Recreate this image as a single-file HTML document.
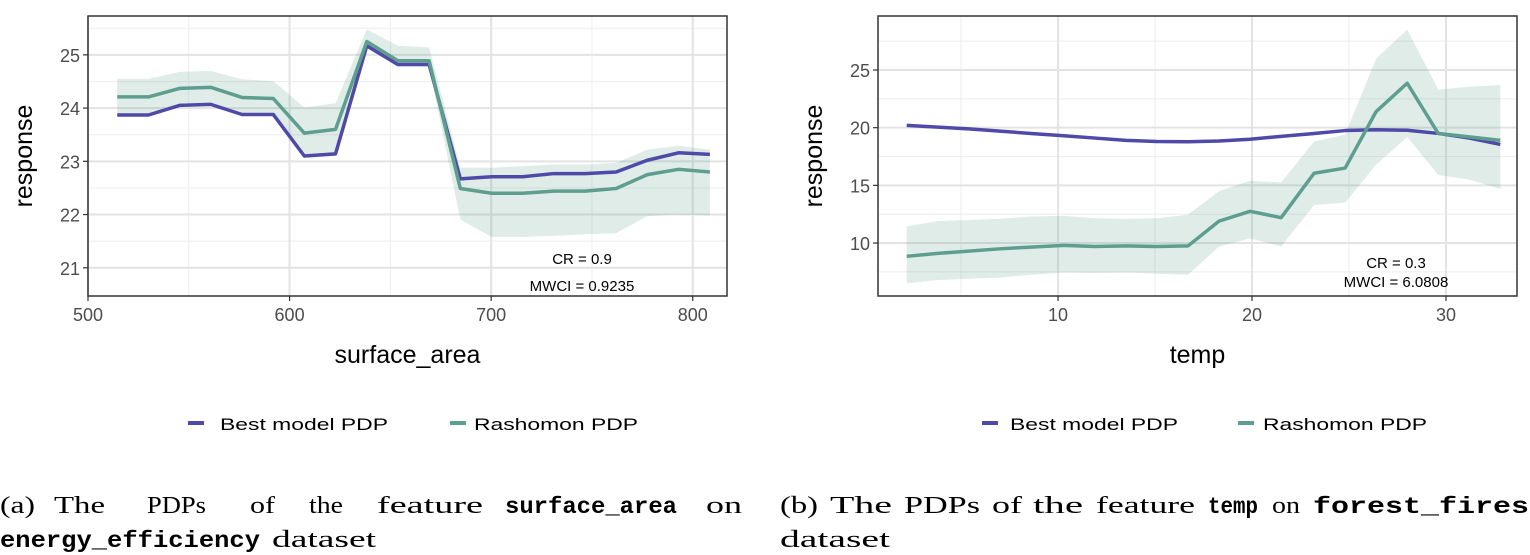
<!DOCTYPE html>
<html><head><meta charset="utf-8"><style>
html,body{margin:0;padding:0;background:#fff;width:1530px;height:555px;overflow:hidden}
svg{display:block}
.tk{font-family:"Liberation Sans",sans-serif;font-size:18px;fill:#4d4d4d}
.ax{font-family:"Liberation Sans",sans-serif;font-size:25px;fill:#000}
.an{font-family:"Liberation Sans",sans-serif;font-size:15px;fill:#000}
.lg{font-family:"Liberation Sans",sans-serif;font-size:17px;fill:#000}
.cap{font-family:"Liberation Serif",serif;font-size:24px;fill:#000}
.mono{font-family:"Liberation Mono",monospace;font-weight:bold;font-size:23px}
</style></head><body>
<svg id="svg" width="1530" height="555" xmlns="http://www.w3.org/2000/svg">
<g id="p1"></g>
<g id="p2"></g>
<g>
<rect x="188" y="421" width="16" height="4" fill="#4f4aa8"/><text class="lg" x="220" y="430" textLength="168" lengthAdjust="spacingAndGlyphs">Best model PDP</text>
<rect x="450" y="421" width="16" height="4" fill="#5e9e8e"/><text class="lg" x="474" y="430" textLength="164" lengthAdjust="spacingAndGlyphs">Rashomon PDP</text>
</g>
<g>
<rect x="982" y="421" width="16" height="4" fill="#4f4aa8"/><text class="lg" x="1010" y="430" textLength="168" lengthAdjust="spacingAndGlyphs">Best model PDP</text>
<rect x="1238" y="421" width="16" height="4" fill="#5e9e8e"/><text class="lg" x="1263" y="430" textLength="164" lengthAdjust="spacingAndGlyphs">Rashomon PDP</text>
</g>
<g>
<text class="cap" x="0" y="513" textLength="35" lengthAdjust="spacingAndGlyphs">(a)</text>
<text class="cap" x="54" y="513" textLength="51" lengthAdjust="spacingAndGlyphs">The</text>
<text class="cap" x="147" y="513" textLength="59" lengthAdjust="spacingAndGlyphs">PDPs</text>
<text class="cap" x="250" y="513" textLength="25" lengthAdjust="spacingAndGlyphs">of</text>
<text class="cap" x="309" y="513" textLength="34" lengthAdjust="spacingAndGlyphs">the</text>
<text class="cap" x="377" y="513" textLength="106" lengthAdjust="spacingAndGlyphs">feature</text>
<text class="cap mono" x="505" y="513" textLength="172" lengthAdjust="spacingAndGlyphs">surface_area</text>
<text class="cap" x="706" y="513" textLength="36" lengthAdjust="spacingAndGlyphs">on</text>
<text class="cap mono" x="0" y="547" textLength="260" lengthAdjust="spacingAndGlyphs">energy_efficiency</text>
<text class="cap" x="272" y="547" textLength="104" lengthAdjust="spacingAndGlyphs">dataset</text>
</g>
<g>
<text class="cap" x="780" y="513" textLength="38" lengthAdjust="spacingAndGlyphs">(b)</text>
<text class="cap" x="830" y="513" textLength="62" lengthAdjust="spacingAndGlyphs">The</text>
<text class="cap" x="904" y="513" textLength="76" lengthAdjust="spacingAndGlyphs">PDPs</text>
<text class="cap" x="992" y="513" textLength="30" lengthAdjust="spacingAndGlyphs">of</text>
<text class="cap" x="1033" y="513" textLength="50" lengthAdjust="spacingAndGlyphs">the</text>
<text class="cap" x="1096" y="513" textLength="99" lengthAdjust="spacingAndGlyphs">feature</text>
<text class="cap mono" x="1208" y="513" textLength="50" lengthAdjust="spacingAndGlyphs">temp</text>
<text class="cap" x="1272" y="513" textLength="28" lengthAdjust="spacingAndGlyphs">on</text>
<text class="cap mono" x="1313" y="513" textLength="216" lengthAdjust="spacingAndGlyphs">forest_fires</text>
<text class="cap" x="780" y="547" textLength="110" lengthAdjust="spacingAndGlyphs">dataset</text>
</g>
</svg>
<script>
// Panel A data
const saX=[514.5,530,545.4,560.9,576.4,591.9,607.3,622.8,638.3,653.7,669.2,684.7,700.2,715.6,731.1,746.6,762,777.5,793,808.5];
const saBest=[23.87,23.87,24.05,24.07,23.88,23.88,23.10,23.14,25.17,24.82,24.82,22.67,22.71,22.71,22.77,22.77,22.80,23.02,23.16,23.13];
const saRash=[24.21,24.21,24.37,24.39,24.20,24.18,23.53,23.60,25.25,24.89,24.89,22.49,22.40,22.40,22.44,22.44,22.49,22.75,22.85,22.80];
const saUp=[24.55,24.55,24.68,24.70,24.54,24.51,24.01,24.09,25.48,25.17,25.14,22.88,22.88,22.91,22.94,22.94,22.97,23.22,23.29,23.22];
const saLo=[23.85,23.85,24.02,24.04,23.86,23.86,23.06,23.10,25.12,24.78,24.78,21.91,21.58,21.58,21.60,21.63,21.65,21.97,22.0,21.98];
const saXTicks=[500,600,700,800];
const saYTicks=[21,22,23,24,25];
// Panel B data
const tX=[2.2,3.8,5.4,7.0,8.6,10.3,11.9,13.5,15.1,16.7,18.3,19.9,21.5,23.2,24.8,26.4,28.0,29.6,31.2,32.8];
const tBest=[20.2,20.05,19.9,19.7,19.5,19.3,19.1,18.9,18.8,18.78,18.85,19.0,19.25,19.5,19.75,19.82,19.78,19.5,19.1,18.55];
const tRash=[8.85,9.1,9.3,9.5,9.65,9.8,9.7,9.75,9.7,9.75,11.9,12.75,12.2,16.05,16.5,21.4,23.85,19.5,19.2,18.9];
const tUp=[11.45,11.9,12.0,12.1,12.3,12.35,12.15,12.1,12.15,12.45,14.5,15.4,15.25,18.8,19.4,26.0,28.5,23.3,23.55,23.7];
const tLo=[6.5,6.8,6.9,7.0,7.25,7.45,7.4,7.45,7.35,7.25,9.7,10.4,9.7,13.3,13.5,16.8,19.2,15.9,15.5,14.7];
const tXTicks=[10,20,30];
const tYTicks=[10,15,20,25];

const NS="http://www.w3.org/2000/svg";
function mk(parent,tag,attrs,txt){const e=document.createElementNS(NS,tag);for(const k in attrs)e.setAttribute(k,attrs[k]);if(txt!==undefined)e.textContent=txt;parent.appendChild(e);return e;}

function panel(g,o){
  const L=o.L,R=o.R,T=16,B=296;
  const sx=v=>L+(v-o.x0)/(o.x1-o.x0)*(R-L);
  const sy=v=>B-(v-o.y0)/(o.y1-o.y0)*(B-T);
  mk(g,'rect',{x:L,y:T,width:R-L,height:B-T,fill:'#fff'});
  o.xMinor.forEach(v=>{const l=mk(g,'line',{x1:sx(v),x2:sx(v),y1:T,y2:B,stroke:'#ededed','stroke-width':1});
    
    });
  o.yMinor.forEach(v=>{const l=mk(g,'line',{x1:L,x2:R,y1:sy(v),y2:sy(v),stroke:'#ededed','stroke-width':1});
    
    });
  o.xt.forEach(v=>{const l=mk(g,'line',{x1:sx(v),x2:sx(v),y1:T,y2:B,stroke:'#e3e3e3','stroke-width':2});
    
    
    mk(g,'line',{x1:sx(v),x2:sx(v),y1:B,y2:B+5,stroke:'#333','stroke-width':1.2});
    const t=mk(g,'text',{class:'tk',x:sx(v),y:B+25,'text-anchor':'middle'},String(v));
    
    });
  o.yt.forEach(v=>{const l=mk(g,'line',{x1:L,x2:R,y1:sy(v),y2:sy(v),stroke:'#e3e3e3','stroke-width':2});
    
    
    mk(g,'line',{x1:L-5,x2:L,y1:sy(v),y2:sy(v),stroke:'#333','stroke-width':1.2});
    const t=mk(g,'text',{class:'tk',x:L-8,y:sy(v)+7,'text-anchor':'end'},String(v));
    
    });
  let d='M'+o.xs.map((x,i)=>sx(x)+','+sy(o.up[i])).join('L');
  for(let i=o.xs.length-1;i>=0;i--)d+='L'+sx(o.xs[i])+','+sy(o.lo[i]);
  const band=mk(g,'path',{d:d+'Z',fill:'#5e9e8e','fill-opacity':0.2});
  
  
  const line=(arr,c,name)=>{const p=mk(g,'path',{d:'M'+o.xs.map((x,i)=>sx(x)+','+sy(arr[i])).join('L'),fill:'none',stroke:c,'stroke-width':3.5,'stroke-linejoin':'round'});
    
    };
  line(o.best,'#4f4aa8','best-model-pdp-line');
  line(o.rash,'#5e9e8e','rashomon-pdp-line');
  mk(g,'rect',{x:L,y:T,width:R-L,height:B-T,fill:'none',stroke:'#333','stroke-width':1.5});
  const a1=mk(g,'text',{class:'an',x:o.ax,y:o.ay1,'text-anchor':'middle'},o.cr);
  
  
  const a2=mk(g,'text',{class:'an',x:o.ax,y:o.ay2,'text-anchor':'middle'},o.mw);
  
  
  const xl=mk(g,'text',{class:'ax',x:(L+R)/2,y:363,'text-anchor':'middle'},o.xlab);
  
  
  const yl=mk(g,'text',{class:'ax',x:0,y:0,'text-anchor':'middle',transform:`translate(${L-56},${(T+B)/2}) rotate(-90)`},'response');
  
  
}
panel(document.getElementById('p1'),{L:88,R:727,x0:500,x1:817,y0:20.47,y1:25.73,
  xs:saX,best:saBest,rash:saRash,up:saUp,lo:saLo,xt:saXTicks,yt:saYTicks,
  xMinor:[550,650,750],yMinor:[21.5,22.5,23.5,24.5,25.5],
  cr:'CR = 0.9',mw:'MWCI = 0.9235',ax:582,ay1:264,ay2:291,xlab:'surface_area'});
panel(document.getElementById('p2'),{L:878,R:1517,x0:0.72,x1:33.66,y0:5.41,y1:29.68,
  xs:tX,best:tBest,rash:tRash,up:tUp,lo:tLo,xt:tXTicks,yt:tYTicks,
  xMinor:[5,15,25],yMinor:[7.5,12.5,17.5,22.5,27.5],
  cr:'CR = 0.3',mw:'MWCI = 6.0808',ax:1396,ay1:268,ay2:287,xlab:'temp'});
</script>
</body></html>
